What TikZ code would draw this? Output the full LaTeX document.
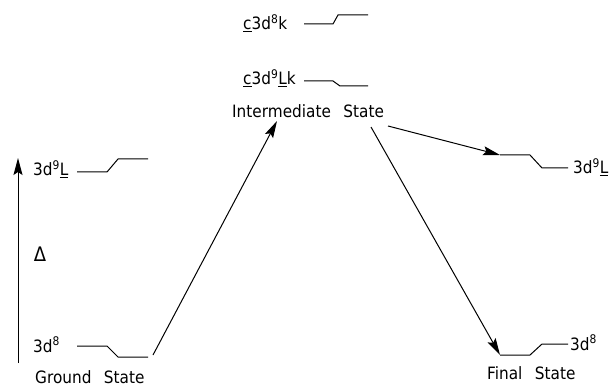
\documentclass[tikz,border=0pt]{standalone}
\usepackage{fontspec}
\setmainfont{DejaVu Sans}[FakeStretch=0.9]
\usetikzlibrary{arrows.meta}
\tikzset{
  lbl/.style={inner sep=0pt, font=\fontsize{17}{20}\selectfont},
  lvl/.style={line width=1pt},
  arr/.style={line width=1pt, -{Stealth[length=17pt,width=9pt,inset=3pt]}},
}
\begin{document}
\begin{tikzpicture}[x=1pt,y=-1pt]
\useasboundingbox (0,0) rectangle (609,387);
% Energy axis
\coordinate (axb) at (18,363);
\coordinate (axt) at (18,158);
\draw[arr] (axb) -- (axt);
\node[lbl, font=\fontsize{20}{22}\selectfont] (delta) at (40,254) {Δ};
% Ground state
\node[lbl, anchor=base west] (gs8) at (33,352) {3d\textsuperscript{8}};
\coordinate (g1) at (77,346); \coordinate (g2) at (107,346);
\coordinate (g3) at (118,357); \coordinate (g4) at (148,357);
\draw[lvl] (g1) -- (g2) -- (g3) -- (g4);
\node[lbl, anchor=base west] (gs) at (35,383) {Ground\hspace{0.45em} State};
% 3d9L left
\node[lbl, anchor=base west] (gs9) at (33,176) {3d\textsuperscript{9}\underline{L}};
\coordinate (h1) at (77,172); \coordinate (h2) at (107,172);
\coordinate (h3) at (118,159); \coordinate (h4) at (148,159);
\draw[lvl] (h1) -- (h2) -- (h3) -- (h4);
% Intermediate states
\node[lbl, anchor=base west] (i8) at (243,30) {\underline{c}3d\textsuperscript{8}k};
\coordinate (a1) at (304,24); \coordinate (a2) at (333,24);
\coordinate (a3) at (338,15); \coordinate (a4) at (368,15);
\draw[lvl] (a1) -- (a2) -- (a3) -- (a4);
\node[lbl, anchor=base west] (i9) at (243,85) {\underline{c}3d\textsuperscript{9}\underline{L}k};
\coordinate (b1) at (304,81); \coordinate (b2) at (333,81);
\coordinate (b3) at (340,86); \coordinate (b4) at (368,86);
\draw[lvl] (b1) -- (b2) -- (b3) -- (b4);
\node[lbl, anchor=base west] (is) at (232,118) {Intermediate\hspace{0.45em} State};
% Final states
\coordinate (c1) at (500,155); \coordinate (c2) at (530,155);
\coordinate (c3) at (542,168); \coordinate (c4) at (568,168);
\draw[lvl] (c1) -- (c2) -- (c3) -- (c4);
\node[lbl, anchor=base west] (f9) at (573,174) {3d\textsuperscript{9}\underline{L}};
\coordinate (d1) at (500,355); \coordinate (d2) at (530,355);
\coordinate (d3) at (542,344); \coordinate (d4) at (568,344);
\draw[lvl] (d1) -- (d2) -- (d3) -- (d4);
\node[lbl, anchor=base west] (f8) at (570,350) {3d\textsuperscript{8}};
\node[lbl, anchor=base west] (fs) at (487,379) {Final\hspace{0.45em} State};
% Transitions
\coordinate (gout) at (153,355);
\coordinate (iin) at (277,121);
\coordinate (iout1) at (388,126);
\coordinate (iout2) at (371,127);
\draw[arr] (gout) -- (iin);
\draw[arr] (iout1) -- (c1);
\draw[arr] (iout2) -- (d1);
\end{tikzpicture}
\end{document}
